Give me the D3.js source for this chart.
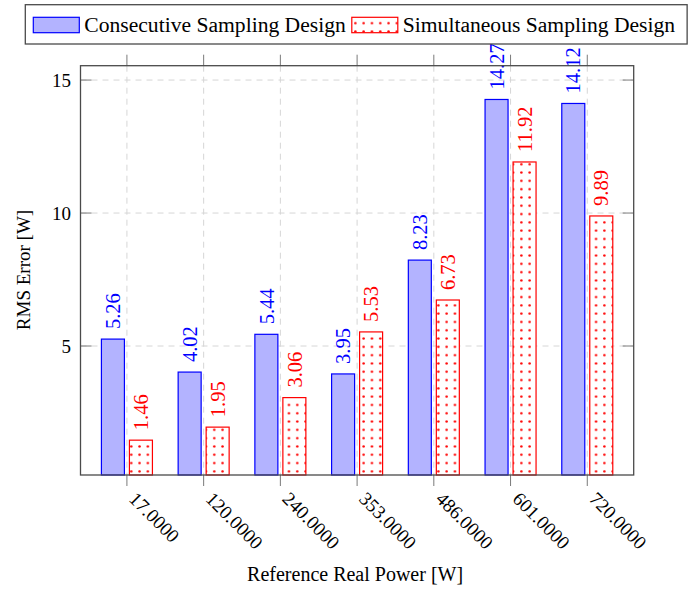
<!DOCTYPE html>
<html><head><meta charset="utf-8">
<script src="https://cdn.jsdelivr.net/npm/d3@7"></script>
<style>body{margin:0;background:#fff}svg{display:block}</style>
</head><body><svg id="c" width="695" height="589"></svg>
<script>
const categories = ["17.0000","120.0000","240.0000","353.0000","486.0000","601.0000","720.0000"];
const consecutive = [5.26, 4.02, 5.44, 3.95, 8.23, 14.27, 14.12];
const simultaneous = [1.46, 1.95, 3.06, 5.53, 6.73, 11.92, 9.89];
const seriesNames = ["Consecutive Sampling Design","Simultaneous Sampling Design"];
const yTicks = [5, 10, 15];
const yTitle = "RMS Error [W]";
const xTitle = "Reference Real Power [W]";

const svg = d3.select("#c");
const L = 80.5, R = 633.7, T = 65.7, B = 475;
const FONT = "'Liberation Serif','Times New Roman',serif";
const x = d3.scalePoint().domain(categories).range([L, R]).padding(0.605);
const y = d3.scaleLinear().domain([0.15, 15.54]).range([B, T]);
const BW = 23, OFF = 14;

const defs = svg.append("defs");
const pat = defs.append("pattern").attr("id","dots").attr("patternUnits","userSpaceOnUse")
  .attr("width",8.3).attr("height",8.3).attr("x",2.6).attr("y",2.4);
pat.append("rect").attr("width",8.3).attr("height",8.3).attr("fill","#fff");
pat.append("circle").attr("cx",4.15).attr("cy",4.15).attr("r",1.25).attr("fill","#ff0000");

// grid
const grid = svg.append("g").attr("stroke","#d6d6d6").attr("stroke-width",1).attr("stroke-dasharray","6,5");
grid.selectAll("line.h").data(yTicks).join("line").attr("x1",L).attr("x2",R)
  .attr("y1",d=>y(d)).attr("y2",d=>y(d));
grid.selectAll("line.v").data(categories).join("line").attr("x1",d=>x(d)).attr("x2",d=>x(d))
  .attr("y1",T).attr("y2",B);

// ticks
const tk = svg.append("g").attr("stroke","#7a7a7a").attr("stroke-width",1);
tk.selectAll("line.b").data(categories).join("line").attr("x1",d=>x(d)).attr("x2",d=>x(d)).attr("y1",B).attr("y2",B+11);
tk.selectAll("line.t").data(categories).join("line").attr("x1",d=>x(d)).attr("x2",d=>x(d)).attr("y1",T).attr("y2",T-11);
tk.selectAll("line.l").data(yTicks).join("line").attr("x1",L).attr("x2",L+11).attr("y1",d=>y(d)).attr("y2",d=>y(d));
tk.selectAll("line.r").data(yTicks).join("line").attr("x1",R).attr("x2",R-11).attr("y1",d=>y(d)).attr("y2",d=>y(d));

// bars
svg.append("g").selectAll("rect").data(consecutive).join("rect")
  .attr("x",(d,i)=>x(categories[i])-OFF-BW/2).attr("width",BW)
  .attr("y",d=>y(d)).attr("height",d=>B-y(d))
  .attr("fill","#b3b3ff").attr("stroke","#0000ff").attr("stroke-width",1.2);
svg.append("g").selectAll("rect").data(simultaneous).join("rect")
  .attr("x",(d,i)=>x(categories[i])+OFF-BW/2).attr("width",BW)
  .attr("y",d=>y(d)).attr("height",d=>B-y(d))
  .attr("fill","url(#dots)").attr("stroke","#ff0000").attr("stroke-width",1.2);

// value labels
function labels(data, off, color){
  svg.append("g").selectAll("text").data(data).join("text")
    .attr("transform",(d,i)=>`translate(${x(categories[i])+off},${y(d)-10}) rotate(-90)`)
    .attr("dy","0.35em").attr("text-anchor","start")
    .attr("font-family",FONT).attr("font-size",20.5).attr("fill",color)
    .text(d=>d.toFixed(2));
}
labels(consecutive, -OFF, "#0000ff");
labels(simultaneous, OFF, "#ff0000");

// frame
svg.append("rect").attr("x",L).attr("y",T).attr("width",R-L).attr("height",B-T)
  .attr("fill","none").attr("stroke","#4a4a4a").attr("stroke-width",1.3);

// tick labels
svg.append("g").selectAll("text").data(yTicks).join("text")
  .attr("x",71).attr("y",d=>y(d)).attr("dy","0.35em").attr("text-anchor","end")
  .attr("font-family",FONT).attr("font-size",19).attr("fill","#000").text(d=>d);
svg.append("g").selectAll("text").data(categories).join("text")
  .attr("transform",d=>`translate(${x(d)+1},${500}) rotate(45)`)
  .attr("font-family",FONT).attr("font-size",19).attr("fill","#000").text(d=>d);

// titles
svg.append("text").attr("x",(L+R)/2-2).attr("y",581).attr("text-anchor","middle")
  .attr("font-family",FONT).attr("font-size",20).text(xTitle);
svg.append("text").attr("transform","translate(30,270) rotate(-90)").attr("text-anchor","middle")
  .attr("font-family",FONT).attr("font-size",19).text(yTitle);

// legend
const lg = svg.append("g");
const box = lg.append("rect").attr("x",25.3).attr("y",4.7).attr("height",39.3)
  .attr("fill","#fff").attr("stroke","#4a4a4a").attr("stroke-width",1.3);
let cx = 33.3;
const sw = [{fill:"#b3b3ff",stroke:"#0000ff"},{fill:"url(#dots)",stroke:"#ff0000"}];
seriesNames.forEach((n,i)=>{
  lg.append("rect").attr("x",cx).attr("y",17.3).attr("width",46).attr("height",15.4)
    .attr("fill",sw[i].fill).attr("stroke",sw[i].stroke).attr("stroke-width",1.2);
  const t = lg.append("text").attr("x",cx+51).attr("y",31.5).attr("font-family",FONT)
    .attr("font-size",21.6).text(n);
  cx = cx + 51 + t.node().getComputedTextLength() + 6;
});
box.attr("width", cx - 6 + 12 - 25.3);
</script></body></html>
